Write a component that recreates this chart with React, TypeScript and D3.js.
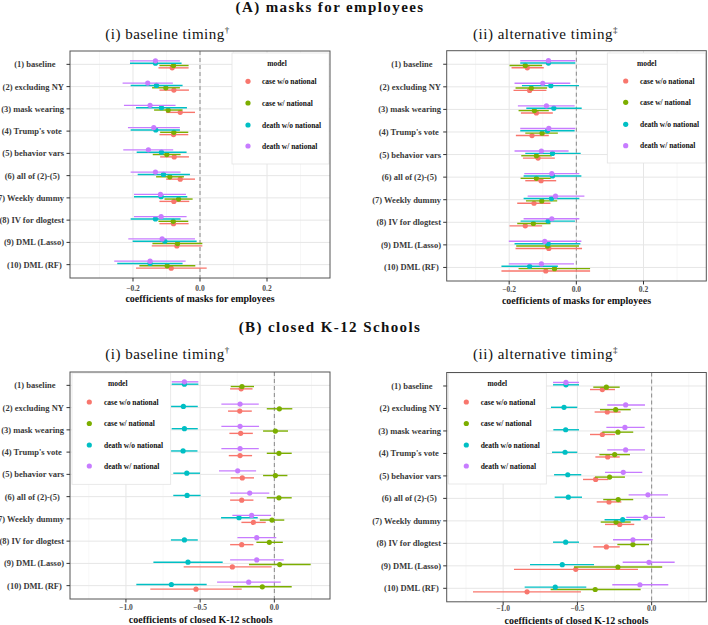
import React from "react";
import * as d3 from "d3";

// ---------- data ----------
const rowLabels = [
  "(1) baseline    ",
  "(2) excluding NY",
  "(3) mask wearing",
  "(4) Trump's vote ",
  "(5) behavior vars",
  "(6) all of (2)-(5)  ",
  "(7) Weekly dummy",
  "(8) IV for dlogtest",
  "(9) DML (Lasso)",
  "(10) DML (RF) ",
];
const seriesNames = ["case w/o national", "case w/ national", "death w/o national", "death w/ national"];
const seriesColors = ["#F8766D", "#7CAE00", "#00BFC4", "#C77CFF"];
const ticksA = [-0.2, 0.0, 0.2];
const minorA = [-0.3, -0.1, 0.1, 0.3];
const ticksB = [-1.0, -0.5, 0.0];
const minorB = [-1.25, -0.75, -0.25, 0.25];

// [estimate, low, high] per row
const A1_caseWo = [[-0.083,-0.124,-0.034],[-0.078,-0.121,-0.033],[-0.059,-0.101,-0.015],[-0.079,-0.121,-0.035],[-0.077,-0.119,-0.033],[-0.059,-0.101,-0.015],[-0.078,-0.121,-0.032],[-0.079,-0.121,-0.034],[-0.069,-0.144,0.007],[-0.086,-0.191,0.020]];
const A1_caseW = [[-0.079,-0.121,-0.034],[-0.102,-0.143,-0.060],[-0.095,-0.137,-0.052],[-0.078,-0.119,-0.035],[-0.099,-0.141,-0.058],[-0.090,-0.131,-0.048],[-0.064,-0.106,-0.022],[-0.080,-0.124,-0.035],[-0.067,-0.142,0.007],[-0.098,-0.181,-0.014]];
const A1_deathWo = [[-0.133,-0.209,-0.055],[-0.130,-0.207,-0.052],[-0.115,-0.191,-0.039],[-0.132,-0.207,-0.060],[-0.115,-0.189,-0.040],[-0.109,-0.186,-0.030],[-0.116,-0.197,-0.038],[-0.133,-0.207,-0.058],[-0.105,-0.201,-0.010],[-0.149,-0.247,-0.052]];
const A1_deathW = [[-0.133,-0.209,-0.060],[-0.156,-0.231,-0.081],[-0.149,-0.227,-0.073],[-0.138,-0.215,-0.060],[-0.154,-0.229,-0.080],[-0.133,-0.207,-0.058],[-0.118,-0.197,-0.042],[-0.116,-0.197,-0.040],[-0.113,-0.214,-0.015],[-0.149,-0.256,-0.043]];

const A2_caseWo = [[-0.146,-0.193,-0.097],[-0.139,-0.187,-0.089],[-0.119,-0.165,-0.070],[-0.132,-0.180,-0.082],[-0.114,-0.159,-0.064],[-0.105,-0.152,-0.060],[-0.126,-0.176,-0.077],[-0.152,-0.199,-0.102],[-0.082,-0.181,0.017],[-0.091,-0.223,0.041]];
const A2_caseW = [[-0.152,-0.199,-0.102],[-0.134,-0.181,-0.087],[-0.125,-0.172,-0.082],[-0.102,-0.152,-0.055],[-0.119,-0.164,-0.073],[-0.119,-0.166,-0.076],[-0.103,-0.150,-0.057],[-0.128,-0.176,-0.077],[-0.086,-0.179,0.008],[-0.065,-0.172,0.041]];
const A2_deathWo = [[-0.083,-0.167,-0.003],[-0.076,-0.162,0.008],[-0.067,-0.149,0.016],[-0.086,-0.167,-0.005],[-0.071,-0.152,0.013],[-0.071,-0.157,0.015],[-0.074,-0.157,0.009],[-0.084,-0.166,-0.004],[-0.084,-0.184,0.012],[-0.139,-0.223,-0.055]];
const A2_deathW = [[-0.083,-0.167,-0.003],[-0.100,-0.184,-0.018],[-0.089,-0.174,-0.005],[-0.082,-0.167,-0.003],[-0.104,-0.184,-0.023],[-0.073,-0.155,0.009],[-0.062,-0.145,0.024],[-0.073,-0.157,0.009],[-0.094,-0.201,0.015],[-0.104,-0.201,-0.007]];

const B1_caseWo = [[-0.224,-0.298,-0.147],[-0.233,-0.312,-0.152],[-0.227,-0.303,-0.145],[-0.231,-0.307,-0.150],[-0.216,-0.294,-0.137],[-0.220,-0.298,-0.141],[-0.141,-0.222,-0.058],[-0.220,-0.298,-0.141],[-0.283,-0.611,-0.018],[-0.528,-0.836,-0.220]];
const B1_caseW = [[-0.218,-0.294,-0.137],[0.034,-0.051,0.121],[0.007,-0.076,0.092],[0.031,-0.051,0.117],[0.007,-0.076,0.088],[0.031,-0.051,0.117],[-0.016,-0.098,0.067],[-0.034,-0.121,0.057],[0.036,-0.171,0.245],[-0.081,-0.278,0.117]];
const B1_deathWo = [[-0.606,-0.692,-0.512],[-0.613,-0.697,-0.516],[-0.606,-0.692,-0.516],[-0.615,-0.697,-0.518],[-0.590,-0.681,-0.501],[-0.588,-0.681,-0.497],[-0.238,-0.359,-0.112],[-0.606,-0.697,-0.516],[-0.582,-0.815,-0.348],[-0.694,-0.930,-0.456]];
const B1_deathW = [[-0.606,-0.692,-0.512],[-0.231,-0.357,-0.105],[-0.231,-0.357,-0.103],[-0.231,-0.357,-0.105],[-0.247,-0.373,-0.123],[-0.166,-0.298,-0.034],[-0.153,-0.283,-0.022],[-0.119,-0.249,0.013],[-0.119,-0.298,0.063],[-0.173,-0.386,0.043]];

const B2_caseWo = [[-0.332,-0.415,-0.247],[-0.299,-0.384,-0.209],[-0.332,-0.415,-0.247],[-0.296,-0.379,-0.215],[-0.377,-0.462,-0.292],[-0.287,-0.370,-0.204],[-0.215,-0.314,-0.117],[-0.305,-0.393,-0.215],[-0.511,-0.927,-0.092],[-0.839,-1.203,-0.476]];
const B2_caseW = [[-0.305,-0.393,-0.215],[-0.242,-0.348,-0.141],[-0.227,-0.332,-0.124],[-0.249,-0.352,-0.146],[-0.283,-0.381,-0.180],[-0.225,-0.326,-0.124],[-0.240,-0.343,-0.141],[-0.126,-0.231,-0.018],[-0.227,-0.523,0.071],[-0.380,-0.680,-0.074]];
const B2_deathWo = [[-0.577,-0.664,-0.489],[-0.590,-0.678,-0.501],[-0.579,-0.662,-0.489],[-0.583,-0.671,-0.501],[-0.565,-0.657,-0.474],[-0.561,-0.653,-0.469],[-0.195,-0.317,-0.074],[-0.579,-0.664,-0.489],[-0.602,-0.819,-0.388],[-0.649,-0.855,-0.440]];
const B2_deathW = [[-0.577,-0.664,-0.489],[-0.175,-0.299,-0.045],[-0.180,-0.305,-0.047],[-0.175,-0.299,-0.045],[-0.191,-0.314,-0.063],[-0.025,-0.155,0.110],[-0.040,-0.171,0.090],[-0.126,-0.260,0.007],[-0.018,-0.195,0.155],[-0.079,-0.265,0.112]];

// ---------- component ----------
const SERIF = "'Liberation Serif', 'Times New Roman', serif";

type PanelProps = {
  series: number[][][];
  domain: [number, number];
  ticks: number[];
  minor: number[];
  left: number; right: number; top: number; bottom: number;
  labelRight: number;
  title: string; sup: string; titleX: number; titleY: number;
  xLabel: string; xLabelX: number; xLabelY: number; xTickY: number;
  legend: { x0: number; x1: number; y0: number; y1: number; titleX: number; titleY: number; dotX: number; textX: number; rows: number[] };
};

function Panel(p: PanelProps) {
  const x = d3.scaleLinear().domain(p.domain).range([p.left, p.right]);
  const y = d3.scalePoint<string>().domain(rowLabels).range([p.top, p.bottom]).padding(0.6);
  const step = y.step();
  const dodge = step * 0.105;
  const fmt = d3.format(".1f");
  return (
    <g>
      <text x={p.titleX} y={p.titleY} textAnchor="middle" fontFamily={SERIF} fontSize={15} letterSpacing={0.5} fill="#111">
        {p.title}
        <tspan fontSize={9} dy={-6}>{p.sup}</tspan>
      </text>
      <rect x={p.left} y={p.top} width={p.right - p.left} height={p.bottom - p.top} fill="#fff" />
      {p.minor.map((v) => (
        <line key={"mn" + v} x1={x(v)} x2={x(v)} y1={p.top} y2={p.bottom} stroke="#f2f2f2" strokeWidth={0.6} />
      ))}
      {p.ticks.map((v) => (
        <line key={"mj" + v} x1={x(v)} x2={x(v)} y1={p.top} y2={p.bottom} stroke="#e6e6e6" strokeWidth={1} />
      ))}
      {rowLabels.map((r) => (
        <line key={"h" + r} x1={p.left} x2={p.right} y1={y(r)} y2={y(r)} stroke="#e6e6e6" strokeWidth={1} />
      ))}
      <line x1={x(0)} x2={x(0)} y1={p.top} y2={p.bottom} stroke="#8a8a8a" strokeWidth={1} strokeDasharray="4,3" />
      {p.series.map((s, k) => (
        <g key={"s" + k}>
          {s.map((d, i) => {
            const cy = (y(rowLabels[i]) as number) + (1.5 - k) * dodge;
            return (
              <g key={i}>
                <line x1={x(d[1])} x2={x(d[2])} y1={cy} y2={cy} stroke={seriesColors[k]} strokeWidth={1.4} />
                <circle cx={x(d[0])} cy={cy} r={2.6} fill={seriesColors[k]} />
              </g>
            );
          })}
        </g>
      ))}
      {/* legend */}
      <rect x={p.legend.x0} y={p.legend.y0} width={p.legend.x1 - p.legend.x0} height={p.legend.y1 - p.legend.y0} fill="#fff" stroke="#e3e3e3" strokeWidth={0.8} />
      <text x={p.legend.titleX} y={p.legend.titleY} textAnchor="middle" dominantBaseline="central" fontFamily={SERIF} fontWeight="bold" fontSize={7.5} fill="#111">model</text>
      {seriesNames.map((n, k) => (
        <g key={n}>
          <circle cx={p.legend.dotX} cy={p.legend.rows[k]} r={2.6} fill={seriesColors[k]} />
          <text x={p.legend.textX} y={p.legend.rows[k]} dominantBaseline="central" fontFamily={SERIF} fontWeight="bold" fontSize={7.5} fill="#111">{n}</text>
        </g>
      ))}
      <rect x={p.left} y={p.top} width={p.right - p.left} height={p.bottom - p.top} fill="none" stroke="#555" strokeWidth={1} />
      {/* y axis */}
      {rowLabels.map((r) => (
        <g key={"yl" + r}>
          <line x1={p.left - 3.5} x2={p.left} y1={y(r)} y2={y(r)} stroke="#333" strokeWidth={1} />
          <text x={p.labelRight} y={y(r)} textAnchor="end" dominantBaseline="central" fontFamily={SERIF} fontWeight="bold" fontSize={8.5} fill="#3a3a3a" style={{ whiteSpace: "pre" }}>{r}</text>
        </g>
      ))}
      {/* x axis */}
      {p.ticks.map((v) => (
        <g key={"xt" + v}>
          <line x1={x(v)} x2={x(v)} y1={p.bottom} y2={p.bottom + 3.5} stroke="#333" strokeWidth={1} />
          <text x={x(v)} y={p.xTickY} textAnchor="middle" fontFamily={SERIF} fontWeight="bold" fontSize={7.5} fill="#4d4d4d">{fmt(v)}</text>
        </g>
      ))}
      <text x={p.xLabelX} y={p.xLabelY} textAnchor="middle" fontFamily={SERIF} fontWeight="bold" fontSize={10} fill="#111">{p.xLabel}</text>
    </g>
  );
}

export default function App() {
  const legendRowsA = [81.3, 103, 125, 146];
  const legendRowsB = [402, 423.5, 445, 466];
  return (
    <svg width={708} height={625} style={{ position: "absolute", left: 0, top: 0, background: "#fff" }}>
      <rect width={708} height={625} fill="#fff" />
      <text x={330} y={12} textAnchor="middle" fontFamily={SERIF} fontWeight="bold" fontSize={15} letterSpacing={1.4} fill="#111">(A) masks for employees</text>
      <text x={330} y={332} textAnchor="middle" fontFamily={SERIF} fontWeight="bold" fontSize={15} letterSpacing={1.4} fill="#111">(B) closed K-12 Schools</text>
      <Panel
        series={[A1_caseWo, A1_caseW, A1_deathWo, A1_deathW]}
        domain={[-0.388, 0.388]} ticks={ticksA} minor={minorA}
        left={70} right={330} top={51} bottom={278} labelRight={64}
        title="(i) baseline timing" sup="†" titleX={167.5} titleY={38.5}
        xLabel="coefficients of masks for employees" xLabelX={200} xLabelY={302} xTickY={290.5}
        legend={{ x0: 232, x1: 329, y0: 53, y1: 164, titleX: 277, titleY: 63, dotX: 248, textX: 262, rows: legendRowsA }}
      />
      <Panel
        series={[A2_caseWo, A2_caseW, A2_deathWo, A2_deathW]}
        domain={[-0.386, 0.387]} ticks={ticksA} minor={minorA}
        left={446.7} right={706.3} top={50.7} bottom={281} labelRight={441}
        title="(ii) alternative timing" sup="‡" titleX={545.5} titleY={38.5}
        xLabel="coefficients of masks for employees" xLabelX={576.5} xLabelY={304} xTickY={292}
        legend={{ x0: 607.3, x1: 705.5, y0: 53, y1: 163, titleX: 646.7, titleY: 63, dotX: 625.7, textX: 640, rows: [81, 102.3, 124.3, 145.7] }}
      />
      <Panel
        series={[B1_caseWo, B1_caseW, B1_deathWo, B1_deathW]}
        domain={[-1.377, 0.375]} ticks={ticksB} minor={minorB}
        left={70} right={330} top={372} bottom={599} labelRight={64}
        title="(i) baseline timing" sup="†" titleX={167.5} titleY={359}
        xLabel="coefficients of closed K-12 schools" xLabelX={200.7} xLabelY={623} xTickY={609.5}
        legend={{ x0: 72, x1: 170.7, y0: 373, y1: 484.3, titleX: 117.7, titleY: 383.3, dotX: 89.3, textX: 104, rows: legendRowsB }}
      />
      <Panel
        series={[B2_caseWo, B2_caseW, B2_deathWo, B2_deathW]}
        domain={[-1.38, 0.368]} ticks={ticksB} minor={minorB}
        left={446.7} right={706.3} top={372.5} bottom={601.8} labelRight={441}
        title="(ii) alternative timing" sup="‡" titleX={545.5} titleY={359}
        xLabel="coefficients of closed K-12 schools" xLabelX={576.5} xLabelY={624} xTickY={611}
        legend={{ x0: 448.3, x1: 546.3, y0: 373, y1: 484, titleX: 497.3, titleY: 383, dotX: 466.3, textX: 480.7, rows: legendRowsB }}
      />
    </svg>
  );
}
